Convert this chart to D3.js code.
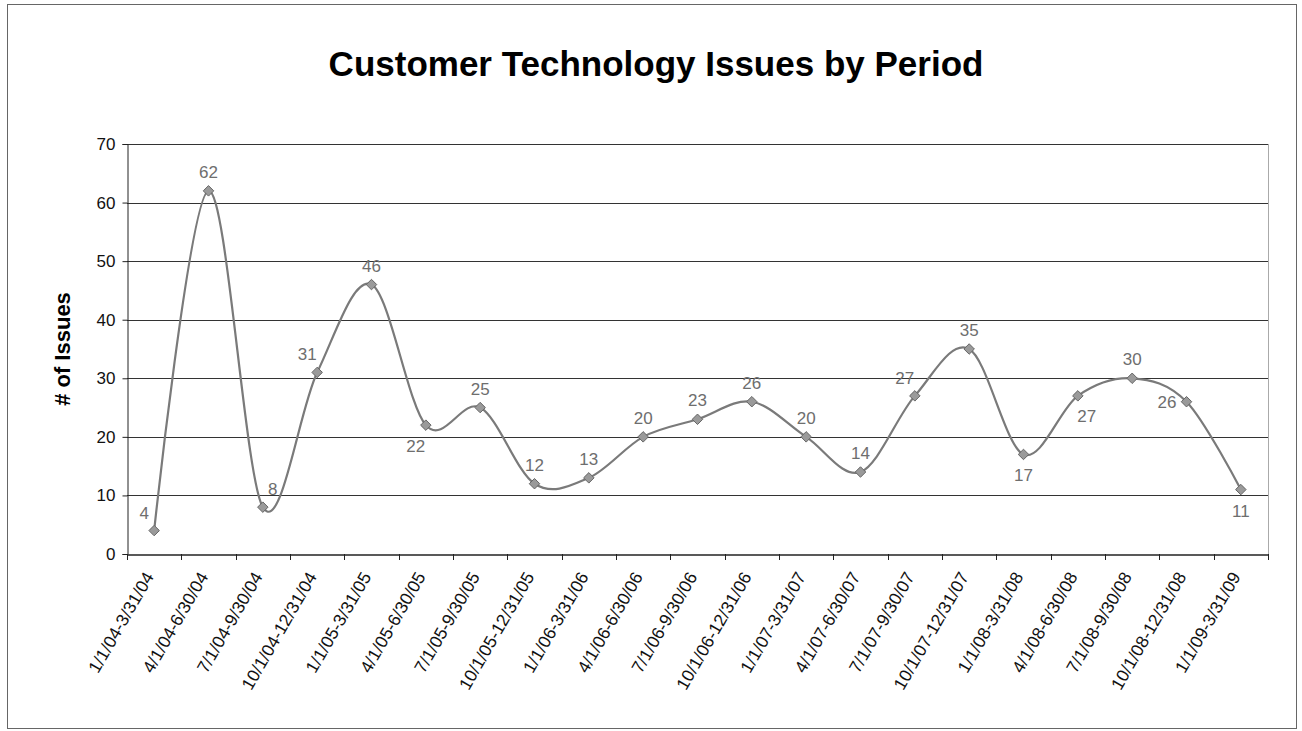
<!DOCTYPE html>
<html>
<head>
<meta charset="utf-8">
<script src="https://cdn.jsdelivr.net/npm/d3@7"></script>
<style>
  html, body { margin: 0; padding: 0; background: #fff; }
  svg { display: block; font-family: "Liberation Sans", Arial, sans-serif; }
</style>
</head>
<body>
<svg id="chart" width="1302" height="731"></svg>
<script>
// Quarterly reporting periods
const periods = [
  "1/1/04-3/31/04", "4/1/04-6/30/04", "7/1/04-9/30/04", "10/1/04-12/31/04",
  "1/1/05-3/31/05", "4/1/05-6/30/05", "7/1/05-9/30/05", "10/1/05-12/31/05",
  "1/1/06-3/31/06", "4/1/06-6/30/06", "7/1/06-9/30/06", "10/1/06-12/31/06",
  "1/1/07-3/31/07", "4/1/07-6/30/07", "7/1/07-9/30/07", "10/1/07-12/31/07",
  "1/1/08-3/31/08", "4/1/08-6/30/08", "7/1/08-9/30/08", "10/1/08-12/31/08",
  "1/1/09-3/31/09"
];
// Number of customer technology issues per period
const issues = [4, 62, 8, 31, 46, 22, 25, 12, 13, 20, 23, 26, 20, 14, 27, 35, 17, 27, 30, 26, 11];
// Where each value label sits relative to its marker
const labelPlacement = [
  "upleft", "above", "upright", "upleft", "above", "downleft", "above", "above",
  "above", "above", "above", "above", "above", "above", "upleft", "above",
  "below", "downright", "above", "left", "below"
];
const yTicks = [0, 10, 20, 30, 40, 50, 60, 70];

const svg = d3.select("#chart");
const margin = { left: 127, right: 1268, top: 144, bottom: 554 };

// Outer chart frame
svg.append("rect")
  .attr("x", 7.5).attr("y", 4.5).attr("width", 1289).attr("height", 724)
  .attr("fill", "none").attr("stroke", "#666").attr("stroke-width", 1);

const x = d3.scaleBand().domain(periods).range([margin.left, margin.right]);
const y = d3.scaleLinear().domain([0, 70]).range([margin.bottom, margin.top]);

// Horizontal gridlines
svg.append("g").selectAll("line").data(yTicks.filter(d => d > 0)).join("line")
  .attr("x1", margin.left).attr("x2", margin.right)
  .attr("y1", d => Math.round(y(d)) + 0.5).attr("y2", d => Math.round(y(d)) + 0.5)
  .attr("stroke", "#333").attr("stroke-width", 1);

// Right edge of the plot area
svg.append("line")
  .attr("x1", margin.right + 0.5).attr("x2", margin.right + 0.5)
  .attr("y1", margin.top).attr("y2", margin.bottom)
  .attr("stroke", "#aaa").attr("stroke-width", 1);

// Y axis
const yAxis = svg.append("g")
  .attr("transform", `translate(${margin.left + 0.5},0)`)
  .call(d3.axisLeft(y).tickValues(yTicks).tickSize(5).tickPadding(7));
yAxis.select(".domain").attr("stroke", "#222");
yAxis.selectAll(".tick line").attr("stroke", "#222");
yAxis.selectAll("text").attr("font-size", 17).attr("fill", "#111");

// X axis with ticks on the category boundaries
const xAxis = svg.append("g")
  .attr("transform", `translate(0,${margin.bottom + 0.5})`)
  .call(d3.axisBottom(x).tickSize(0).tickPadding(0));
xAxis.select(".domain").attr("stroke", "#222").attr("stroke-width", 1.5);
xAxis.selectAll(".tick text")
  .attr("font-size", 17.5).attr("fill", "#111")
  .attr("text-anchor", "end")
  .attr("dy", "0.35em")
  .attr("transform", "translate(-5,19) rotate(-60)");
const boundaries = periods.map(p => x(p)).concat([x(periods[periods.length - 1]) + x.bandwidth()]);
svg.append("g").selectAll("line").data(boundaries).join("line")
  .attr("x1", d => Math.round(d) + 0.5).attr("x2", d => Math.round(d) + 0.5)
  .attr("y1", margin.bottom).attr("y2", margin.bottom + 6)
  .attr("stroke", "#222");

// Title and axis label
svg.append("text")
  .attr("x", 656).attr("y", 76)
  .attr("text-anchor", "middle")
  .attr("font-size", 35).attr("font-weight", "bold").attr("fill", "#000")
  .text("Customer Technology Issues by Period");

svg.append("text")
  .attr("transform", `translate(70,${(margin.top + margin.bottom) / 2}) rotate(-90)`)
  .attr("text-anchor", "middle")
  .attr("font-size", 22).attr("font-weight", "bold").attr("fill", "#000")
  .text("# of Issues");

// Smoothed series line
const cx = i => x(periods[i]) + x.bandwidth() / 2;
const line = d3.line()
  .x((d, i) => cx(i))
  .y(d => y(d))
  .curve(d3.curveCatmullRom.alpha(0));
svg.append("path")
  .datum(issues)
  .attr("d", line)
  .attr("fill", "none").attr("stroke", "#7a7a7a").attr("stroke-width", 2.2);

// Diamond markers
const diamond = d3.symbol().type(d3.symbolDiamond2).size(70);
svg.append("g").selectAll("path").data(issues).join("path")
  .attr("d", diamond)
  .attr("transform", (d, i) => `translate(${cx(i)},${y(d)})`)
  .attr("fill", "#9a9a9a").attr("stroke", "#666").attr("stroke-width", 1);

// Value labels
const offsets = {
  above: [0, -13, "middle"],
  below: [0, 27, "middle"],
  upleft: [-10, -12, "middle"],
  upright: [10, -12, "middle"],
  downleft: [-10, 27, "middle"],
  downright: [9, 26, "middle"],
  left: [-10, 6, "end"]
};
svg.append("g").selectAll("text").data(issues).join("text")
  .attr("x", (d, i) => cx(i) + offsets[labelPlacement[i]][0])
  .attr("y", (d, i) => y(d) + offsets[labelPlacement[i]][1])
  .attr("text-anchor", (d, i) => offsets[labelPlacement[i]][2])
  .attr("font-size", 17).attr("fill", "#6e6e6e")
  .text(d => d);
</script>
</body>
</html>
